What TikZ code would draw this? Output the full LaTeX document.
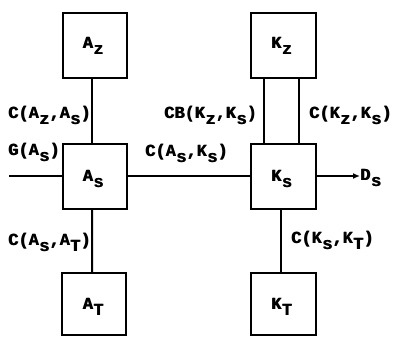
\documentclass[tikz,border=0pt]{standalone}
\usepackage{fontspec}
\setmonofont{Liberation Mono}
\usetikzlibrary{arrows.meta}
\newcommand\lo[1]{\hspace{0.5bp}\raisebox{-6bp}{#1}}
\newcommand\heavy[1]{\rlap{\kern0.7bp #1}#1}
\begin{document}
\begin{tikzpicture}[x=1bp,y=-1bp,
  every node/.style={font=\ttfamily\bfseries\fontsize{17}{17}\selectfont, inner sep=0},
  box/.style={draw, line width=2bp, minimum width=64bp, minimum height=65bp},
  lowbox/.style={box, minimum height=62bp},
  conn/.style={line width=2bp},
  lab/.style={anchor=base west},
  intext/.style={anchor=base}]
\useasboundingbox (0,0) rectangle (393,337);
% boxes
\node[box] (Az) at (95,45.5) {};
\node[box] (Kz) at (283.5,45.5) {};
\node[box] (As) at (95,176) {};
\node[box] (Ks) at (283.5,176) {};
\node[lowbox] (At) at (94,304) {};
\node[lowbox] (Kt) at (283.5,304) {};
% box texts
\node[intext] (Azt) at ([xshift=-2bp,yshift=-3bp]Az.center) {\heavy{A\lo{z}}};
\node[intext] (Kzt) at ([xshift=-2bp,yshift=-3bp]Kz.center) {\heavy{K\lo{z}}};
\node[intext] (Ast) at ([xshift=-2bp,yshift=-5bp]As.center) {\heavy{A\lo{s}}};
\node[intext] (Kst) at ([xshift=-2bp,yshift=-5bp]Ks.center) {\heavy{K\lo{s}}};
\node[intext] (Att) at ([xshift=-1bp,yshift=-5bp]At.center) {\heavy{A\lo{T}}};
\node[intext] (Ktt) at ([xshift=-2bp,yshift=-5bp]Kt.center) {\heavy{K\lo{T}}};
% connectors
\draw[conn] ([xshift=-3bp]Az.south) -- ([xshift=-3bp]As.north);
\draw[conn] ([xshift=-19.5bp]Kz.south) -- ([xshift=-19.5bp]Ks.north);
\draw[conn] ([xshift=15.5bp]Kz.south) -- ([xshift=15.5bp]Ks.north);
\draw[conn] ([xshift=-3bp]As.south) -- ([xshift=-2bp]At.north);
\draw[conn] ([xshift=-2.5bp]Ks.south) -- ([xshift=-2.5bp]Kt.north);
\coordinate (Gin) at (9,176);
\draw[conn] (Gin) -- (As.west);
\draw[conn] (As.east) -- (Ks.west);
\coordinate (Dend) at (360,176);
\draw[conn,-{Latex[length=7bp,width=6bp]}] (Ks.east) -- (Dend);
% labels
\node[lab] (Ds) at (360,180) {\heavy{D\lo{s}}};
\node[lab] (L1) at (8,118) {\heavy{C(A\lo{z},A\lo{s})}};
\node[lab] (L2) at (8,155) {\heavy{G(A\lo{s})}};
\node[lab] (L3) at (164,118) {\heavy{CB(K\lo{z},K\lo{s})}};
\node[lab] (L4) at (145,156) {\heavy{C(A\lo{s},K\lo{s})}};
\node[lab] (L5) at (309,118) {\heavy{C(K\lo{z},K\lo{s})}};
\node[lab] (L6) at (8,245) {\heavy{C(A\lo{s},A\lo{T})}};
\node[lab] (L7) at (291,243) {\heavy{C(K\lo{s},K\lo{T})}};
\end{tikzpicture}
\end{document}
